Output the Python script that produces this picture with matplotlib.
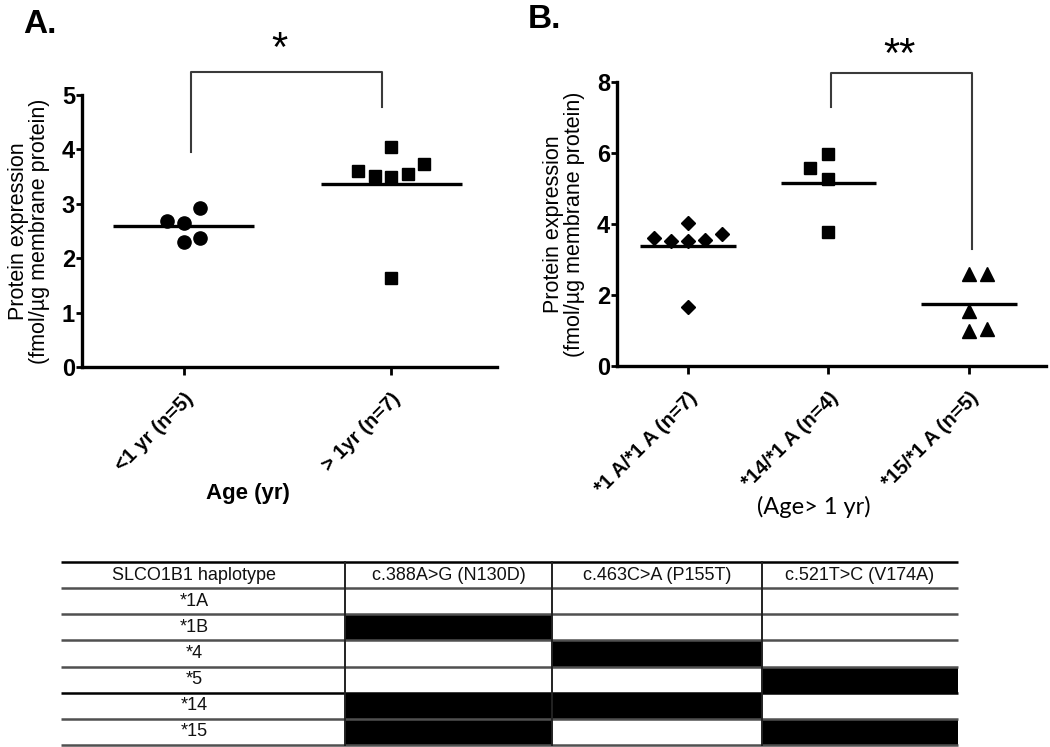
import numpy as np
import matplotlib

matplotlib.use("Agg")
import matplotlib.pyplot as plt

plt.rcParams["font.family"] = ["Liberation Sans", "DejaVu Sans"]

# panel A: age groups
age_labels = ["<1 yr (n=5)", "> 1yr (n=7)"]
age_lt1 = [2.69, 2.65, 2.93, 2.29, 2.38]
age_lt1_jitter = [-0.08, 0.0, 0.08, 0.0, 0.08]
age_gt1 = [3.61, 3.51, 3.50, 3.55, 3.73, 4.05, 1.63]
age_gt1_jitter = [-0.16, -0.08, 0.0, 0.08, 0.16, 0.0, 0.0]

# panel B: haplotypes (age > 1 yr)
hap_labels = ["*1 A/*1 A (n=7)", "*14/*1 A (n=4)", "*15/*1 A (n=5)"]
hap_1a = [3.60, 3.53, 3.53, 3.55, 3.71, 4.04, 1.65]
hap_1a_jitter = [-0.24, -0.12, 0.0, 0.12, 0.24, 0.0, 0.0]
hap_14 = [5.57, 5.97, 5.27, 3.78]
hap_14_jitter = [-0.13, 0.0, 0.0, 0.0]
hap_15 = [2.58, 2.58, 1.55, 1.00, 1.03]
hap_15_jitter = [0.0, 0.13, 0.0, 0.0, 0.13]

# table
tbl_header = ["SLCO1B1 haplotype", "c.388A>G (N130D)", "c.463C>A (P155T)", "c.521T>C (V174A)"]
tbl_haplotypes = ["*1A", "*1B", "*4", "*5", "*14", "*15"]
tbl_variants = np.array([
    [0, 0, 0],
    [1, 0, 0],
    [0, 1, 0],
    [0, 0, 1],
    [1, 1, 0],
    [1, 0, 1],
])

YLABEL = "Protein expression\n(fmol/µg membrane protein)"


def style_axes(ax):
    for side in ["top", "right"]:
        ax.spines[side].set_visible(False)
    for side in ["left", "bottom"]:
        ax.spines[side].set_linewidth(2.4)
    ax.tick_params(axis="y", length=4, width=2.0, pad=1, labelsize=17)
    ax.tick_params(axis="x", length=6, width=2.0, pad=10, labelsize=14.5)
    for lab in ax.get_yticklabels():
        lab.set_fontweight("bold")


def dot_group(ax, pos, vals, jitter, marker, ms, half=0.34):
    xs = pos + np.array(jitter)
    ax.plot(xs, vals, linestyle="none", marker=marker, color="black", markersize=ms)
    m = np.mean(vals)
    ax.plot([pos - half, pos + half], [m, m], color="black", lw=2.4, solid_capstyle="butt")


def bracket(ax, x0, x1, top, y0, y1, text, tx, ty):
    ax.plot([x0, x0, x1, x1], [y0, top, top, y1], color="#3a3a3a", lw=1.5, clip_on=False)
    ax.text(tx, ty, text, ha="center", va="center", fontsize=30, clip_on=False)


fig = plt.figure(figsize=(10.5, 7.47), dpi=100)

# ---- panel A
axA = fig.add_axes([0.0781, 0.5087, 0.3952, 0.3641])
dot_group(axA, 0, age_lt1, age_lt1_jitter, "o", 9.5)
dot_group(axA, 1, age_gt1, age_gt1_jitter, "s", 9)
axA.set_xlim(-0.49, 1.51)
axA.set_ylim(0, 5)
axA.set_yticks(range(0, 6))
axA.set_xticks([0, 1])
axA.set_xticklabels(age_labels, rotation=45, ha="right", rotation_mode="anchor", fontweight="bold")
style_axes(axA)
axA.set_ylabel(YLABEL, fontsize=15.5, linespacing=1.0)
axA.yaxis.set_label_coords(-0.077, 0.5)
axA.set_xlabel("Age (yr)", fontsize=16, fontweight="bold")
axA.xaxis.set_label_coords(0.4, -0.425)
bracket(axA, 0.035, 0.955, 5.42, 3.95, 4.78, "*", 0.46, 5.82)

# ---- panel B
axB = fig.add_axes([0.5876, 0.51, 0.4086, 0.3802])
dot_group(axB, 0, hap_1a, hap_1a_jitter, "D", 7)
dot_group(axB, 1, hap_14, hap_14_jitter, "s", 9)
dot_group(axB, 2, hap_15, hap_15_jitter, "^", 10)
axB.set_xlim(-0.505, 2.55)
axB.set_ylim(0, 8)
axB.set_yticks(range(0, 9, 2))
axB.set_xticks([0, 1, 2])
axB.set_xticklabels(hap_labels, rotation=45, ha="right", rotation_mode="anchor", fontweight="bold")
style_axes(axB)
axB.set_ylabel(YLABEL, fontsize=15.5, linespacing=1.0)
axB.yaxis.set_label_coords(-0.075, 0.5)
axB.set_xlabel("(Age> 1 yr)", fontsize=17, family=["Lato", "DejaVu Sans"])
axB.xaxis.set_label_coords(0.458, -0.458)
bracket(axB, 1.02, 2.02, 8.25, 7.30, 3.30, "**", 1.51, 8.72)

fig.text(0.022, 0.956, "A.", fontsize=24, fontweight="bold", ha="left", va="baseline")
fig.text(0.503, 0.963, "B.", fontsize=24, fontweight="bold", ha="left", va="baseline")

# ---- haplotype table
col_edges = [0, 284, 491, 701, 897]
n_rows = len(tbl_haplotypes) + 1
axT = fig.add_axes([61 / 1050, 2 / 747, 897 / 1050, 183 / 747])
axT.set_xlim(0, col_edges[-1])
axT.set_ylim(n_rows, 0)
axT.axis("off")
axT.pcolormesh(col_edges[1:], np.arange(1, n_rows + 1), tbl_variants,
               cmap="gray_r", vmin=0, vmax=1, shading="flat")
for r in range(n_rows + 1):
    axT.plot([0, col_edges[-1]], [r, r], color="black" if r in (0, 5) else "#505050",
             lw=1.8, solid_capstyle="butt", clip_on=False)
for c in col_edges[1:-1]:
    axT.plot([c, c], [0, n_rows], color="#222222", lw=1.4, clip_on=False)
text_x = [133] + [(a + b) / 2 for a, b in zip(col_edges[1:-1], col_edges[2:])]
for c, txt in enumerate(tbl_header):
    axT.text(text_x[c], 0.5, txt, ha="center", va="center", fontsize=13, color="#111111")
for r, txt in enumerate(tbl_haplotypes):
    axT.text(text_x[0], r + 1.5, txt, ha="center", va="center", fontsize=13, color="#111111")

fig.savefig("out.png", dpi=100)
